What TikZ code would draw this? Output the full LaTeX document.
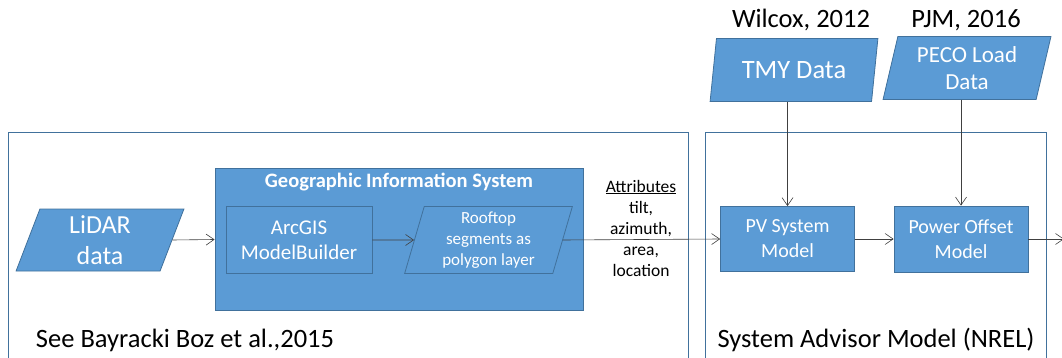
\documentclass[tikz,border=0pt]{standalone}
\usepackage{fontspec}
\setmainfont{Carlito}
\usetikzlibrary{shapes.geometric,arrows.meta}
\definecolor{officeblue}{HTML}{5B9BD5}
\definecolor{officeedge}{HTML}{41719C}
\definecolor{arrowgray}{HTML}{404040}
\newcommand{\fsz}[2]{\fontsize{#1}{#2}\selectfont}

\begin{document}
\begin{tikzpicture}[x=1pt,y=-1pt,
  frame/.style={draw=officeedge,line width=0.8pt},
  box/.style={draw=officeedge,fill=officeblue,text=white,align=center,minimum width=134pt,minimum height=65pt,inner sep=0pt,line width=0.8pt,font=\fsz{20}{25}},
  data/.style={trapezium,trapezium left angle=76,trapezium right angle=104,trapezium stretches=true,draw=officeedge,fill=officeblue,text=white,align=center,minimum width=168pt,minimum height=63pt,inner sep=0pt,line width=0.8pt},
  cite/.style={font=\fsz{26.5}{30}},
  link/.style={draw=arrowgray,line width=0.6pt,-{Straight Barb[length=8pt,width=11pt]}}]
  \useasboundingbox (0,0) rectangle (1062,358);
  % Outer frames
  \draw[frame] (8,132) rectangle (688,380);
  \draw[frame] (705,132) rectangle (1046,380);
  \node (refgis) [cite] at (185,340) {See Bayracki Boz et al.,2015};
  \node (refsam) [cite] at (876,340) {System Advisor Model (NREL)};
  % Input
  \node (lidar) [data,minimum height=62pt,font=\fsz{26}{31}] at (100,240) {LiDAR\\data};
  % GIS block
  \node (gis) [box,minimum width=368pt,minimum height=142.5pt] at (399,239.5) {};
  \node (gistitle) [text=white,font=\fsz{20.5}{24}\bfseries] at (399,182) {Geographic Information System};
  \node (arcgis) [box,minimum width=146pt,minimum height=67pt,font=\fsz{21}{25}] at (299,240) {ArcGIS\\ModelBuilder};
  \node (roof) [data,minimum height=67pt,font=\fsz{17}{21}] at (488.5,240) {Rooftop\\segments as\\polygon layer};
  % Attributes
  \node (attr) [align=center,font=\fsz{17.5}{21}] at (641,228) {\underline{Attributes}\\tilt,\\azimuth,\\area,\\location};
  % SAM blocks
  \node (pv) [box] at (787.5,239) {PV System\\Model};
  \node (power) [box,minimum height=66pt] at (961,239) {Power Offset\\Model};
  \coordinate (exit) at (1064,239);
  % Weather and load data
  \node (tmy) [data,font=\fsz{26.5}{30}] at (794,70) {TMY Data};
  \node (peco) [data,font=\fsz{23}{27}] at (967,68) {PECO Load\\Data};
  \node (wilcox) [cite] at (801,20) {Wilcox, 2012};
  \node (pjm) [cite] at (966,20) {PJM, 2016};
  % arrows
  \draw[link] (lidar.east) -- (gis.west);
  \draw[link] (arcgis.east) -- (roof.west);
  \draw[link] (roof.east) -- (pv.west);
  \draw[link] (pv.east) -- (power.west);
  \draw[link] (power.east) -- (exit);
  \draw[link] (tmy.south -| pv.north) -- (pv.north);
  \draw[link] (peco.south -| power.north) -- (power.north);
\end{tikzpicture}
\end{document}
